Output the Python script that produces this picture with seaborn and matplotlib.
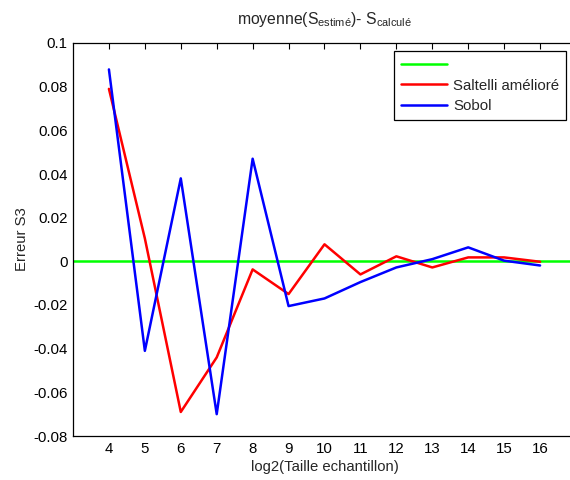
import matplotlib
matplotlib.use('Agg')
import matplotlib.pyplot as plt
import pandas as pd
import seaborn as sns

# data
log2_n = [4, 5, 6, 7, 8, 9, 10, 11, 12, 13, 14, 15, 16]
saltelli = [0.079, 0.0105, -0.069, -0.044, -0.0037, -0.015, 0.0078, -0.006,
            0.0023, -0.0028, 0.0018, 0.0018, -0.0002]
sobol = [0.0879, -0.041, 0.038, -0.070, 0.047, -0.0205, -0.017, -0.0095,
         -0.0028, 0.001, 0.0064, 0.0003, -0.0019]
zero_level = 0.0
labels = ['', 'Saltelli amélioré', 'Sobol']
colors = {'Saltelli amélioré': '#ff0000', 'Sobol': '#0000ff'}

sns.set_style('white')
plt.rcParams['font.family'] = ['Liberation Sans', 'DejaVu Sans']
plt.rcParams['mathtext.fontset'] = 'custom'
plt.rcParams['mathtext.rm'] = 'Liberation Sans'
plt.rcParams['mathtext.default'] = 'regular'

df = pd.DataFrame({'x': log2_n * 2,
                   'err': saltelli + sobol,
                   'method': ['Saltelli amélioré'] * len(log2_n) + ['Sobol'] * len(log2_n)})

fig = plt.figure(figsize=(5.7, 4.8), dpi=100)
ax = fig.add_axes([73 / 570, 44 / 480, 503 / 570, 393 / 480])

h0 = ax.axhline(zero_level, color='#00ff00', lw=1.8)
sns.lineplot(data=df, x='x', y='err', hue='method', palette=colors,
             lw=1.8, ax=ax, legend=False)

ax.set_xlim(3, 17)
ax.set_ylim(-0.08, 0.1)
ax.set_xticks(log2_n)
ax.set_yticks([-0.08, -0.06, -0.04, -0.02, 0, 0.02, 0.04, 0.06, 0.08, 0.1])
ax.set_yticklabels(['-0.08', '-0.06', '-0.04', '-0.02', '0', '0.02', '0.04',
                    '0.06', '0.08', '0.1'])
ax.tick_params(direction='in', top=True, right=True, length=4, width=0.8,
               labelsize=10.8, colors='black', pad=4)
for s in ax.spines.values():
    s.set_color('black')
    s.set_linewidth(0.9)

ax.set_xlabel('log2(Taille echantillon)', fontsize=10.7, labelpad=3)
ax.set_ylabel('Erreur S3', fontsize=10.7, labelpad=3)
ax.set_title('moyenne(S$_{estimé}$)- S$_{calculé}$', fontsize=11.3, pad=14)

lines = [h0] + ax.lines[1:3]
leg = ax.legend(lines, labels, loc='upper right',
                bbox_to_anchor=(566 / 570, 1 - 51 / 480),
                bbox_transform=fig.transFigure, borderaxespad=0,
                fancybox=False, framealpha=1, edgecolor='black',
                fontsize=10.8, handlelength=3.1, labelspacing=0.45,
                handletextpad=0.4, borderpad=0.45)
leg.get_frame().set_linewidth(0.9)

fig.savefig('out.png', dpi=100)
